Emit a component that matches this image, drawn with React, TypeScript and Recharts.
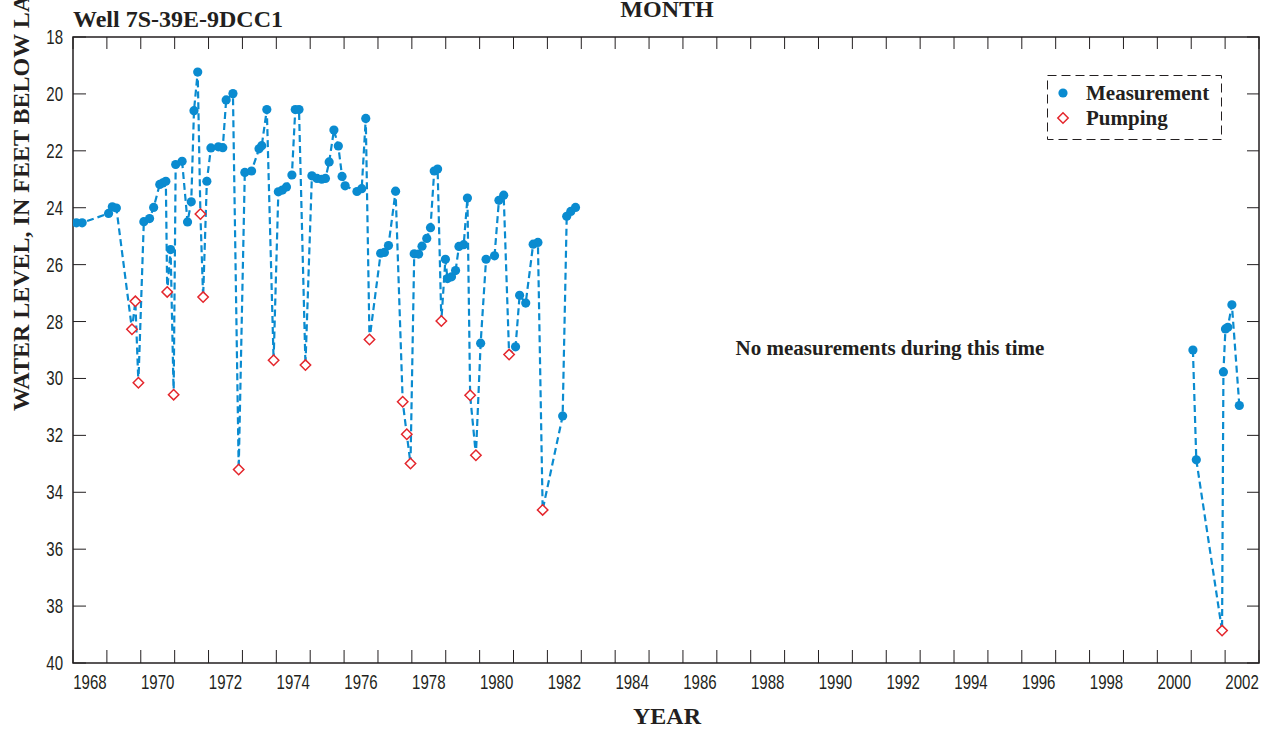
import React from "react";
import { ComposedChart, Line, XAxis, YAxis, ReferenceArea } from "recharts";

// Water levels, feet below land surface, by decimal year
const measurementDates = [
  1968.1, 1968.27, 1969.05, 1969.16, 1969.28,
  1970.09, 1970.26, 1970.38, 1970.56, 1970.65, 1970.74, 1970.88,
  1971.03, 1971.22, 1971.38, 1971.49, 1971.57, 1971.68, 1971.95,
  1972.07, 1972.29, 1972.42, 1972.52, 1972.72,
  1973.07, 1973.27, 1973.49, 1973.57, 1973.72,
  1974.06, 1974.18, 1974.3, 1974.46, 1974.56, 1974.67,
  1975.05, 1975.2, 1975.34, 1975.45, 1975.56, 1975.7, 1975.83, 1975.94,
  1976.03, 1976.38, 1976.52, 1976.64,
  1977.08, 1977.19, 1977.31, 1977.52,
  1978.07, 1978.2, 1978.3, 1978.44, 1978.55, 1978.66, 1978.76, 1978.99,
  1979.05, 1979.17, 1979.29, 1979.39, 1979.53, 1979.64,
  1980.03, 1980.19, 1980.44, 1980.57, 1980.71,
  1981.06, 1981.18, 1981.36, 1981.58, 1981.72,
  1982.45, 1982.57, 1982.69, 1982.83,
  2001.05, 2001.15, 2001.95, 2002.01, 2002.08, 2002.2, 2002.42,
];
const measurementLevels = [
  24.53, 24.53, 24.2, 23.97, 24.01,
  24.49, 24.38, 23.99, 23.18, 23.13, 23.07, 25.47,
  22.48, 22.37, 24.5, 23.79, 20.59, 19.23, 23.07,
  21.9, 21.86, 21.89, 20.21, 19.99,
  22.76, 22.71, 21.93, 21.82, 20.55,
  23.44, 23.38, 23.27, 22.85, 20.55, 20.55,
  22.88, 22.97, 23.0, 22.97, 22.39, 21.27, 21.83, 22.9,
  23.23, 23.43, 23.33, 20.86,
  25.6, 25.57, 25.33, 23.42,
  25.62, 25.63, 25.35, 25.08, 24.7, 22.71, 22.64, 25.81,
  26.49, 26.43, 26.21, 25.36, 25.3, 23.66,
  28.76, 25.81, 25.69, 23.74, 23.56,
  28.89, 27.08, 27.35, 25.28, 25.22,
  31.32, 24.3, 24.13, 23.99,
  29.0, 32.86, 29.77, 28.26, 28.2, 27.41, 30.95,
];
const pumpingDates = [
  1969.74, 1969.84, 1969.93, 1970.78, 1970.97, 1971.76, 1971.84, 1972.89,
  1973.92, 1974.86, 1976.75, 1977.73, 1977.85, 1977.96, 1978.87, 1979.72,
  1979.89, 1980.87, 1981.86, 2001.91,
];
const pumpingLevels = [
  28.27, 27.29, 30.15, 26.96, 30.57, 24.22, 27.14, 33.2,
  29.36, 29.53, 28.63, 30.82, 31.96, 32.99, 27.98, 30.59,
  32.7, 29.16, 34.62, 38.86,
];

const yearTicks = Array.from({ length: 36 }, (_, i) => 1968 + i);
const yearLabels = Array.from({ length: 18 }, (_, i) => 1968.5 + i * 2);
const levelTicks = [18, 20, 22, 24, 26, 28, 30, 32, 34, 36, 38, 40];

const BLUE = "#0a8bd0";
const RED = "#e4262c";
const INK = "#231f20";
const SERIF = "'Liberation Serif', 'DejaVu Serif', serif";
const SANS = "'Liberation Sans', Arial, sans-serif";

type Row = { t: number; level: number | null; kind: "M" | "P" | "gap" };

// merge both record types into one time-ordered trace, breaking the line across the long gap
function buildRows(): Row[] {
  const pts: Row[] = [
    ...measurementDates.map((t, i) => ({ t, level: measurementLevels[i], kind: "M" as const })),
    ...pumpingDates.map((t, i) => ({ t, level: pumpingLevels[i], kind: "P" as const })),
  ].sort((a, b) => a.t - b.t);
  const rows: Row[] = [];
  pts.forEach((p, i) => {
    if (i > 0 && p.t - pts[i - 1].t > 5) {
      rows.push({ t: (p.t + pts[i - 1].t) / 2, level: null, kind: "gap" });
    }
    rows.push(p);
  });
  return rows;
}
const rows = buildRows();

function Diamond({ cx, cy, s = 5.2 }: { cx: number; cy: number; s?: number }) {
  return (
    <path
      d={`M${cx},${cy - s}L${cx + s},${cy}L${cx},${cy + s}L${cx - s},${cy}Z`}
      fill="#fff"
      stroke={RED}
      strokeWidth={1.5}
    />
  );
}

function renderDot(props: any) {
  const { cx, cy, payload, index } = props;
  if (cx == null || cy == null || payload.level == null) return <g key={`d${index}`} />;
  if (payload.kind === "P") {
    return (
      <g key={`d${index}`}>
        <Diamond cx={cx} cy={cy} />
      </g>
    );
  }
  return <circle key={`d${index}`} cx={cx} cy={cy} r={4.6} fill={BLUE} />;
}

// condensed tick lettering
function NarrowText({ x, y, anchor, children }: { x: number; y: number; anchor: "middle" | "end"; children: React.ReactNode }) {
  return (
    <text
      transform={`translate(${x},${y}) scale(0.77,1)`}
      textAnchor={anchor}
      fontFamily={SANS}
      fontSize={19.5}
      fill={INK}
    >
      {children}
    </text>
  );
}

const BottomTick = ({ x, y }: any) => <line x1={x} x2={x} y1={y} y2={y - 13} stroke={INK} />;
const TopTick = ({ x, y }: any) => <line x1={x} x2={x} y1={y} y2={y + 12} stroke={INK} />;
const RightTick = ({ x, y }: any) => <line x1={x} x2={x - 12} y1={y} y2={y} stroke={INK} />;

const YearLabel = ({ x, y, payload }: any) => (
  <NarrowText x={x} y={y + 25} anchor="middle">
    {Math.floor(payload.value)}
  </NarrowText>
);

const LeftTick = ({ x, y, payload }: any) => (
  <g>
    <line x1={x} x2={x + 13} y1={y} y2={y} stroke={INK} />
    <NarrowText x={x - 10} y={y + 7} anchor="end">
      {payload.value}
    </NarrowText>
  </g>
);

const axisCommon = {
  type: "number" as const,
  allowDataOverflow: true,
  tickSize: 0,
  tickMargin: 0,
  tickLine: false,
  axisLine: false,
  interval: 0 as const,
};

export default function App() {
  return (
    <div style={{ position: "absolute", left: 0, top: 0, width: 1268, height: 729, background: "#fff" }}>
      <ComposedChart
        width={1268}
        height={729}
        data={rows}
        margin={{ top: 36, right: 8, bottom: 35, left: 0 }}
      >
        <XAxis {...axisCommon} xAxisId="b" dataKey="t" domain={[1968, 2003]} ticks={yearLabels} height={30} tick={<YearLabel />} />
        <XAxis {...axisCommon} xAxisId="top" dataKey="t" orientation="top" domain={[1968, 2003]} ticks={yearTicks} height={1} tick={<TopTick />} />
        <YAxis {...axisCommon} yAxisId="l" domain={[18, 40]} reversed ticks={levelTicks} width={73} tick={<LeftTick />} />
        <YAxis {...axisCommon} yAxisId="r" orientation="right" domain={[18, 40]} reversed ticks={levelTicks} width={1} tick={<RightTick />} />
        <XAxis {...axisCommon} xAxisId="a" dataKey="t" domain={[1968, 2003]} ticks={yearTicks} height={1} tick={<BottomTick />} />

        <ReferenceArea
          xAxisId="a"
          yAxisId="l"
          x1={1968}
          x2={2003}
          y1={18}
          y2={40}
          fill="none"
          stroke={INK}
          strokeWidth={1.5}
          ifOverflow="visible"
        />

        {/* carriers so the secondary axes share the same data extent */}
        <Line xAxisId="b" yAxisId="r" dataKey="level" stroke="none" dot={false} activeDot={false} isAnimationActive={false} />
        <Line xAxisId="top" yAxisId="r" dataKey="level" stroke="none" dot={false} activeDot={false} isAnimationActive={false} />

        <Line
          xAxisId="a"
          yAxisId="l"
          type="linear"
          dataKey="level"
          stroke={BLUE}
          strokeWidth={2.2}
          strokeDasharray="7 4"
          connectNulls={false}
          dot={renderDot}
          activeDot={false}
          isAnimationActive={false}
        />
      </ComposedChart>

      <svg
        width={1268}
        height={729}
        style={{ position: "absolute", left: 0, top: 0, pointerEvents: "none" }}
        fontFamily={SERIF}
        fontWeight="bold"
        fill={INK}
      >
        <text x={73} y={26.5} fontSize={24}>Well 7S-39E-9DCC1</text>
        <text x={667} y={17} fontSize={24} textAnchor="middle">MONTH</text>
        <text x={667} y={724} fontSize={24} textAnchor="middle">YEAR</text>
        <text transform="translate(29,411) rotate(-90)" fontSize={24}>
          WATER LEVEL, IN FEET BELOW LAND SURFACE
        </text>
        <text x={890} y={355} fontSize={21} textAnchor="middle">No measurements during this time</text>

        <rect x={1047.5} y={75.5} width={174} height={64} fill="#fff" stroke={INK} strokeDasharray="9 5" />
        <circle cx={1063} cy={93} r={4.6} fill={BLUE} />
        <text x={1086} y={100} fontSize={21}>Measurement</text>
        <Diamond cx={1063} cy={118} />
        <text x={1086} y={125} fontSize={21}>Pumping</text>
      </svg>
    </div>
  );
}
